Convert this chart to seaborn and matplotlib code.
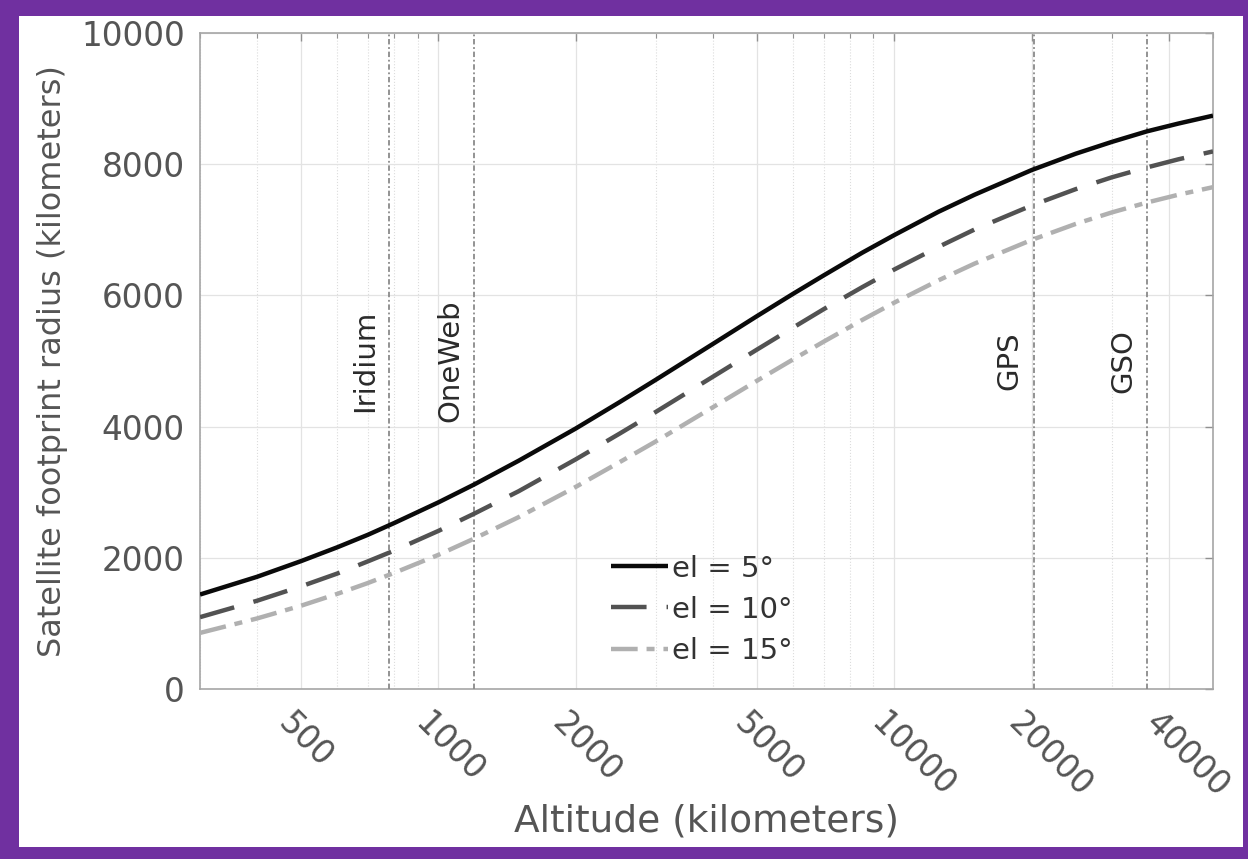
import matplotlib
matplotlib.use("Agg")
import matplotlib.pyplot as plt
import matplotlib.transforms as mtransforms
import seaborn as sns
import pandas as pd
from matplotlib.patches import Rectangle
from matplotlib.ticker import FixedLocator, NullFormatter

# ---- data ----
altitude_km = [300, 400, 500, 600, 700, 800, 1000, 1200, 1500, 2000, 2500, 3000,
               4000, 5000, 6000, 7000, 8500, 10000, 12500, 15000, 20000, 25000,
               30000, 35786, 42000, 50000]
radius_el5 = [1440, 1710, 1950, 2160, 2350, 2530, 2845, 3120, 3480, 3970, 4375, 4715,
              5260, 5685, 6025, 6305, 6650, 6920, 7275, 7535, 7910, 8160,
              8340, 8500, 8620, 8740]
radius_el10 = [1095, 1345, 1565, 1760, 1945, 2110, 2410, 2675, 3015, 3500, 3895, 4225,
               4760, 5175, 5510, 5790, 6125, 6395, 6740, 7005, 7370, 7620,
               7800, 7950, 8075, 8195]
radius_el15 = [855, 1075, 1270, 1450, 1615, 1770, 2045, 2295, 2620, 3080, 3460, 3775,
               4295, 4700, 5025, 5295, 5625, 5890, 6230, 6485, 6845, 7090,
               7265, 7415, 7535, 7650]
series_labels = ["el = 5°", "el = 10°", "el = 15°"]

constellations = ["Iridium", "OneWeb", "GPS", "GSO"]
constellation_alt = [780, 1200, 20200, 35786]

x_ticks = [500, 1000, 2000, 5000, 10000, 20000, 40000]
x_tick_labels = ["500", "1000", "2000", "5000", "10000", "20000", "40000"]
y_ticks = [0, 2000, 4000, 6000, 8000, 10000]

# ---- figure ----
sns.set_style("white")
plt.rcParams["font.family"] = ["DejaVu Sans"]

fig = plt.figure(figsize=(12.48, 8.59), dpi=100)
fig.patch.set_facecolor("#7030a0")
fig.patches.append(Rectangle((19 / 1248, 12 / 859), (1243 - 19) / 1248, (859 - 16 - 12) / 859,
                             transform=fig.transFigure, facecolor="white",
                             edgecolor="none", zorder=-10))
ax = fig.add_axes([200 / 1248, (859 - 689) / 859, 1013 / 1248, 656 / 859])
ax.set_zorder(1)
ax.set_facecolor("white")

df = pd.DataFrame({
    "alt": altitude_km * 3,
    "radius": radius_el5 + radius_el10 + radius_el15,
    "el": [series_labels[0]] * len(altitude_km) + [series_labels[1]] * len(altitude_km)
          + [series_labels[2]] * len(altitude_km),
})

styles = {
    series_labels[0]: dict(color="#0a0a0a", linestyle="-"),
    series_labels[1]: dict(color="#525252", linestyle=(0, (8, 4.5))),
    series_labels[2]: dict(color="#b0b0b0", linestyle=(0, (6, 2, 1.8, 2))),
}
for lab in series_labels:
    sub = df[df["el"] == lab]
    sns.lineplot(data=sub, x="alt", y="radius", ax=ax, label=lab, linewidth=3.2,
                 solid_capstyle="butt", dash_capstyle="butt", zorder=4, **styles[lab])

ax.set_xscale("log")
ax.set_xlim(300, 50000)
ax.set_ylim(0, 10000)

# vertical reference lines
for name, a in zip(constellations, constellation_alt):
    ax.axvline(a, color="#8a8a8a", linewidth=1.3, linestyle=(0, (3, 1.5, 1, 1.5)), zorder=3)
    ax.annotate(name, xy=(a, 5000), xytext=(-7, 0), textcoords="offset points",
                rotation=90, ha="right", va="center", fontsize=21, color="#2a2a2a")

# ticks
ax.xaxis.set_major_locator(FixedLocator(x_ticks))
ax.set_xticklabels(x_tick_labels)
minor = [m * 10 ** e for e in (2, 3, 4) for m in range(1, 10)]
minor = [v for v in minor if 300 <= v <= 50000 and v not in x_ticks]
ax.xaxis.set_minor_locator(FixedLocator(minor))
ax.xaxis.set_minor_formatter(NullFormatter())
ax.set_yticks(y_ticks)
ax.set_yticklabels([str(v) for v in y_ticks])

ax.tick_params(axis="both", which="both", direction="in", top=True, right=True,
               color="#909090", labelcolor="#555555")
ax.tick_params(axis="both", which="major", length=6, width=1, labelsize=23.5)
ax.tick_params(axis="x", which="major", pad=13)
ax.tick_params(axis="y", which="major", pad=11)
ax.tick_params(axis="x", which="minor", length=3.5, width=0.8)
shift = mtransforms.ScaledTranslation(-30 / 100, 0, fig.dpi_scale_trans)
for lbl in ax.get_xticklabels():
    lbl.set_rotation(-45)
    lbl.set_ha("left")
    lbl.set_transform(lbl.get_transform() + shift)

ax.grid(True, which="major", color="#e3e3e3", linewidth=0.9, linestyle="-", zorder=0)
ax.grid(True, which="minor", axis="x", color="#dcdcdc", linewidth=0.8, linestyle=":", zorder=0)
ax.set_axisbelow(True)

for s in ax.spines.values():
    s.set_visible(True)
    s.set_color("#a6a6a6")
    s.set_linewidth(1.2)

ax.set_xlabel("Altitude (kilometers)", fontsize=27, color="#555555", labelpad=0)
ax.set_ylabel("Satellite footprint radius (kilometers)", fontsize=23, color="#555555", labelpad=9)

leg = ax.legend(loc="upper left", bbox_to_anchor=(0.38, 0.245), frameon=False,
                fontsize=21, handlelength=1.95, handletextpad=0.15, labelspacing=0.45,
                labelcolor="#333333")

fig.savefig("out.png", dpi=100, facecolor=fig.get_facecolor())
